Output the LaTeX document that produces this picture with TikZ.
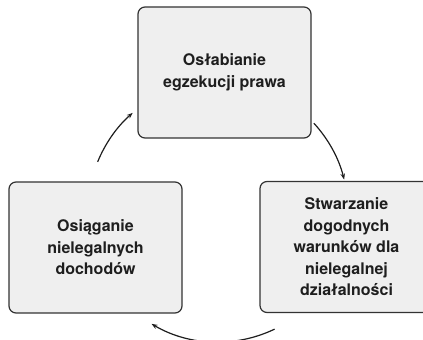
\documentclass[tikz,border=0pt]{standalone}
\usepackage{fontspec}
\setmainfont{TeX Gyre Heros}
\usetikzlibrary{arrows.meta,calc}
\definecolor{boxfill}{HTML}{EFEFEF}
\definecolor{boxline}{HTML}{333333}
\definecolor{inkc}{HTML}{1E1E1E}
\tikzset{
  stagebox/.style={draw=boxline, fill=boxfill, line width=1.2pt, rounded corners=7pt,
    minimum width=173pt, minimum height=131pt, align=center, text=inkc,
    font=\bfseries\fontsize{16}{21.5}\selectfont, inner sep=0pt},
  cyclearrow/.style={draw=inkc, line width=1.2pt, -{Stealth[length=6pt,width=4.5pt]}}
}
\begin{document}
\begin{tikzpicture}[x=1pt,y=1pt]
\useasboundingbox (0,0) rectangle (423,340);
\node[stagebox] (top) at (224.5,267.5) {Osłabianie\\egzekucji prawa};
\node[stagebox] (left) at (95.5,92.5) {Osiąganie\\nielegalnych\\dochodów};
\node[stagebox] (right) at (346.5,93) {Stwarzanie\\dogodnych\\warunków dla\\nielegalnej\\działalności};
\coordinate (c) at (218,129);
\coordinate (a1) at ($(c)+(42.5:130)$);
\coordinate (a2) at ($(c)+(-64.4:131)$);
\coordinate (a3) at ($(c)+(157.8:130)$);
\draw[cyclearrow] (a1) arc[start angle=42.5, end angle=14, radius=130];
\draw[cyclearrow] (a2) arc[start angle=-64.4, end angle=-120.5, radius=131];
\draw[cyclearrow] (a3) arc[start angle=157.8, end angle=131, radius=130];
\end{tikzpicture}
\end{document}
